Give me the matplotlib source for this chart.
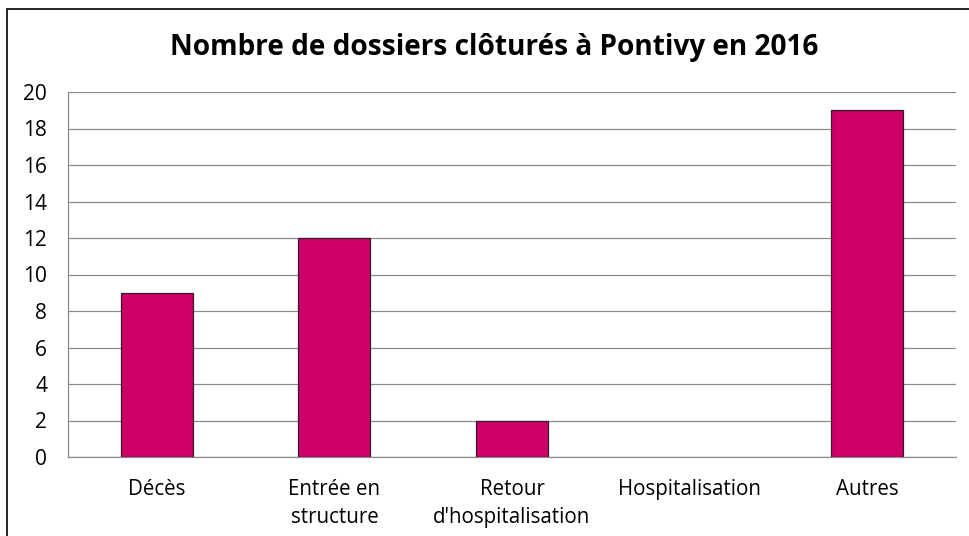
import matplotlib
matplotlib.use("Agg")
import matplotlib.pyplot as plt
from matplotlib.patches import Rectangle

categories = ["Décès", "Entrée en\nstructure", "Retour\nd'hospitalisation", "Hospitalisation", "Autres"]
values = [9, 12, 2, 0, 19]
yticks = [0, 2, 4, 6, 8, 10, 12, 14, 16, 18, 20]
title = "Nombre de dossiers clôturés à Pontivy en 2016"

plt.rcParams['font.family'] = ['Open Sans', 'DejaVu Sans']

fig = plt.figure(figsize=(9.7, 5.36), dpi=100)
fig.patches.append(Rectangle((7/970, -0.1), 1.2, 1 - 9/536 + 0.1, transform=fig.transFigure,
                             fill=False, edgecolor='black', linewidth=1.2))
ax = fig.add_axes([68/970, 1 - 457/536, (956 - 68)/970, (457 - 92)/536])

x = range(len(categories))
lws = [0.9 if v > 0 else 0 for v in values]
ax.bar(x, values, width=0.405, color='#CC0066', edgecolor='#3a1a2a', linewidth=lws, zorder=3)
ax.set_xlim(-0.5, len(categories) - 0.5)
ax.set_ylim(0, 20)
ax.set_yticks(yticks)
ax.set_yticklabels([str(v) for v in yticks], fontsize=15)
ax.set_xticks(list(x))
ax.set_xticklabels(categories, fontsize=14.8, linespacing=1.42)
ax.tick_params(axis='both', length=0, colors='black')
ax.tick_params(axis='y', pad=15)
ax.tick_params(axis='x', pad=16)
ax.yaxis.grid(True, color='#8c8c8c', linewidth=0.9, zorder=0)
ax.set_axisbelow(True)
for s in ['top', 'right']:
    ax.spines[s].set_visible(False)
for s in ['left', 'bottom']:
    ax.spines[s].set_color('#8c8c8c')
    ax.spines[s].set_linewidth(0.9)

fig.text(494/970, 1 - 47/536, title, ha='center', va='center', fontsize=20.2, fontweight='bold')

fig.savefig("out.png", dpi=100)
